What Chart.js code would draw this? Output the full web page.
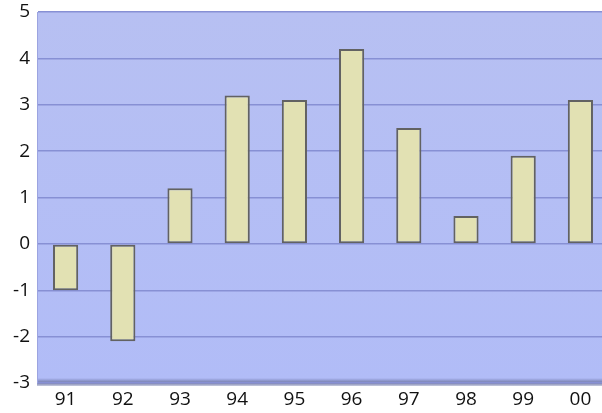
<!DOCTYPE html>
<html>
<head>
<meta charset="utf-8">
<script src="https://cdn.jsdelivr.net/npm/chart.js@4"></script>
<style>
  html, body { margin: 0; padding: 0; background: #fff; overflow: hidden; }
  #wrap { width: 609px; height: 413px; position: relative; }
</style>
</head>
<body>
<div id="wrap"><canvas id="chart"></canvas></div>
<script>
// data
var years = ["91", "92", "93", "94", "95", "96", "97", "98", "99", "00"];
var values = [-1.0, -2.1, 1.2, 3.2, 3.1, 4.2, 2.5, 0.6, 1.9, 3.1];
var yMin = -3;
var yMax = 5;

// plot area background
var plotBg = {
  id: "plotBg",
  beforeDraw: function (chart) {
    var a = chart.chartArea, ctx = chart.ctx;
    ctx.save();
    var g = ctx.createLinearGradient(0, a.top, 0, a.bottom);
    g.addColorStop(0, "#b7c0f2");
    g.addColorStop(1, "#b1bcf7");
    ctx.fillStyle = g;
    ctx.fillRect(a.left, a.top, a.right - a.left, a.bottom - a.top);
    // floor shadow
    var f = ctx.createLinearGradient(0, a.bottom - 5, 0, a.bottom + 3);
    f.addColorStop(0, "rgba(110,118,170,0)");
    f.addColorStop(0.6, "#737ba8");
    f.addColorStop(1, "#c8cce0");
    ctx.fillStyle = f;
    ctx.fillRect(a.left, a.bottom - 5, a.right - a.left, 8);
    ctx.restore();
  }
};

var tickFont = { family: "Open Sans", size: 19 };

new Chart(document.getElementById("chart"), {
  type: "bar",
  data: {
    labels: years,
    datasets: [{
      data: values,
      backgroundColor: "#e2e1b3",
      borderColor: "#626262",
      borderWidth: 2,
      borderSkipped: false,
      barPercentage: 0.44,
      categoryPercentage: 1
    }]
  },
  options: {
    responsive: true,
    maintainAspectRatio: false,
    animation: false,
    layout: { padding: { top: 12, bottom: 0, left: 0, right: 0 } },
    plugins: { legend: { display: false }, tooltip: { enabled: false } },
    scales: {
      x: {
        offset: true,
        grid: { display: false, drawTicks: false },
        border: { display: false },
        afterFit: function (s) { s.height = 30; },
        ticks: { color: "#111", padding: 5, font: tickFont }
      },
      y: {
        min: yMin,
        max: yMax,
        afterFit: function (s) {
          s.width = 37;
          s.paddingTop = 0;
          s.paddingBottom = 0;
        },
        grid: { color: "#8790d4", lineWidth: 1.5, drawTicks: false },
        border: { display: true, color: "#9ca4e0", width: 1 },
        ticks: { stepSize: 1, color: "#111", padding: 7, font: tickFont }
      }
    }
  },
  plugins: [plotBg]
});
</script>
</body>
</html>
